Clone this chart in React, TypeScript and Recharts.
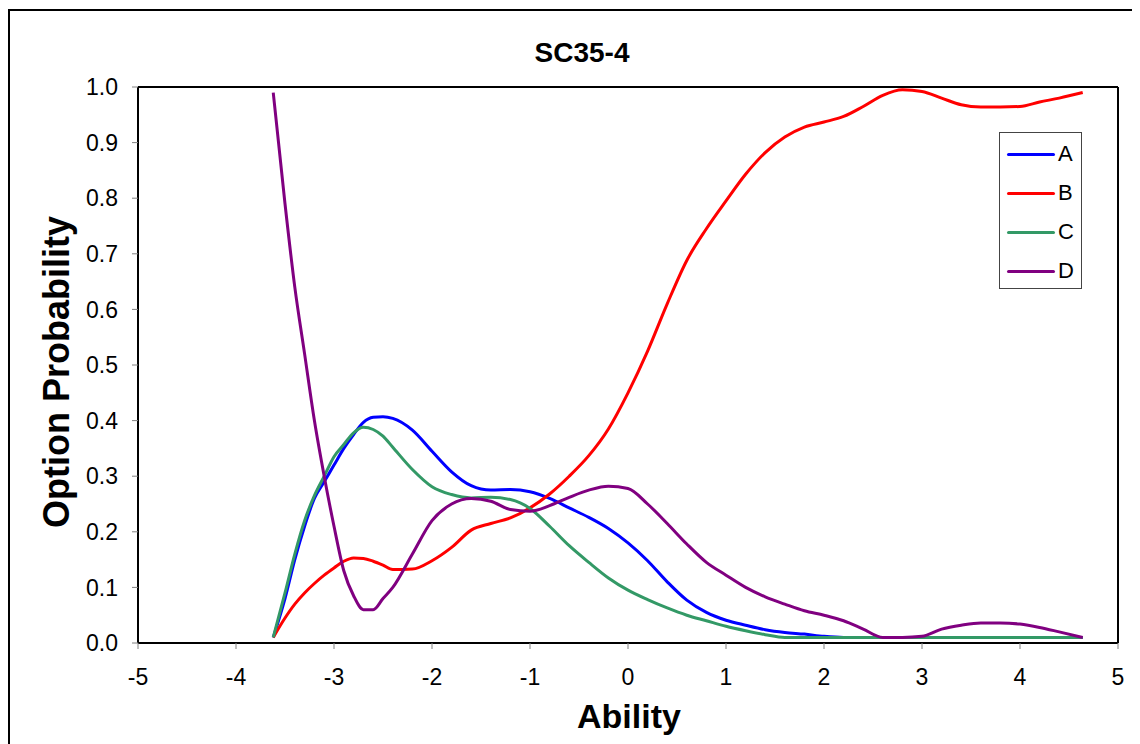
import { LineChart, Line, XAxis, YAxis, ReferenceLine } from 'recharts';

const ABILITY = [
  -3.62, -3.5, -3.4, -3.3, -3.2, -3.1, -3.0, -2.9, -2.8, -2.7, -2.6, -2.5, -2.4, -2.2, -2.0,
  -1.8, -1.6, -1.4, -1.2, -1.0, -0.8, -0.6, -0.4, -0.2, 0, 0.2, 0.4, 0.6, 0.8, 1.0,
  1.2, 1.4, 1.6, 1.8, 2.0, 2.2, 2.4, 2.6, 2.8, 3.0, 3.2, 3.4, 3.6, 3.8, 4.0, 4.2, 4.4, 4.64,
];

const OPTION_A = [
  0.01, 0.08, 0.15, 0.21, 0.26, 0.29, 0.32, 0.35, 0.375, 0.397, 0.406, 0.407, 0.404, 0.383, 0.345,
  0.308, 0.283, 0.275, 0.276, 0.272, 0.26, 0.243, 0.226, 0.206, 0.18, 0.148, 0.11, 0.077, 0.055, 0.041,
  0.032, 0.024, 0.019, 0.016, 0.012, 0.01, 0.01, 0.01, 0.01, 0.01, 0.01, 0.01, 0.01, 0.01, 0.01, 0.01, 0.01, 0.01,
];

const OPTION_B = [
  0.01, 0.045, 0.07, 0.09, 0.107, 0.122, 0.135, 0.147, 0.153, 0.152, 0.147, 0.14, 0.132, 0.133, 0.148,
  0.172, 0.203, 0.215, 0.225, 0.243, 0.268, 0.3, 0.337, 0.385, 0.45, 0.525, 0.61, 0.688, 0.745, 0.795,
  0.843, 0.882, 0.91, 0.928, 0.937, 0.947, 0.965, 0.985, 0.995, 0.992, 0.98, 0.968, 0.964, 0.964, 0.965, 0.973, 0.98, 0.99,
];

const OPTION_C = [
  0.01, 0.09, 0.16, 0.22, 0.265, 0.3, 0.335, 0.357, 0.378, 0.388, 0.384, 0.372, 0.352, 0.312, 0.281,
  0.267, 0.261, 0.262, 0.258, 0.242, 0.21, 0.175, 0.145, 0.117, 0.095, 0.078, 0.063, 0.05, 0.04, 0.03,
  0.022, 0.015, 0.01, 0.01, 0.01, 0.01, 0.01, 0.01, 0.01, 0.01, 0.01, 0.01, 0.01, 0.01, 0.01, 0.01, 0.01, 0.01,
];

const OPTION_D = [
  0.99, 0.79, 0.64, 0.52, 0.4, 0.3, 0.21, 0.13, 0.085, 0.06, 0.06, 0.08, 0.1, 0.16, 0.22,
  0.25, 0.26, 0.255, 0.24, 0.237, 0.247, 0.262, 0.275, 0.282, 0.278, 0.25, 0.215, 0.178, 0.145, 0.122,
  0.1, 0.083, 0.07, 0.058, 0.05, 0.04, 0.025, 0.01, 0.01, 0.012, 0.025, 0.032, 0.036, 0.036, 0.034, 0.028, 0.02, 0.01,
];

const X_TICKS = [-5, -4, -3, -2, -1, 0, 1, 2, 3, 4, 5];
const Y_TICKS = [0, 0.1, 0.2, 0.3, 0.4, 0.5, 0.6, 0.7, 0.8, 0.9, 1.0];

const SERIES = [
  { key: 'A', color: '#0000ff' },
  { key: 'B', color: '#ff0000' },
  { key: 'C', color: '#339966' },
  { key: 'D', color: '#800080' },
];

const FONT = 'Arial, "Liberation Sans", sans-serif';

const data = ABILITY.map((x, i) => ({
  x,
  A: OPTION_A[i],
  B: OPTION_B[i],
  C: OPTION_C[i],
  D: OPTION_D[i],
}));

// legend box, same look as the excel one
function LegendBox() {
  return (
    <div
      style={{
        position: 'absolute',
        left: 991,
        top: 124,
        width: 81,
        height: 155,
        border: '1px solid #444',
        background: '#fff',
        fontSize: 22,
      }}
    >
      {SERIES.map((s, i) => (
        <div key={s.key} style={{ position: 'absolute', left: 7, top: 9 + i * 39, display: 'flex', alignItems: 'center' }}>
          <div style={{ width: 48, height: 3, background: s.color, borderRadius: 2 }} />
          <span style={{ marginLeft: 3, lineHeight: '24px' }}>{s.key}</span>
        </div>
      ))}
    </div>
  );
}

export default function App() {
  return (
    <div style={{ position: 'relative', width: 1132, height: 736, fontFamily: FONT, overflow: 'hidden' }}>
      <div style={{ position: 'absolute', left: 0, top: 1, width: 1200, height: 800, borderTop: '2px solid #000', borderLeft: '2px solid #000' }} />
      <div style={{ position: 'absolute', left: 474, top: 29, width: 200, textAlign: 'center', fontWeight: 'bold', fontSize: 28 }}>
        SC35-4
      </div>
      <div
        style={{
          position: 'absolute',
          left: 49,
          top: 364,
          transform: 'translate(-50%, -50%) rotate(-90deg)',
          whiteSpace: 'nowrap',
          fontWeight: 'bold',
          fontSize: 36,
        }}
      >
        Option Probability
      </div>
      <div style={{ position: 'absolute', left: 521, top: 689, width: 200, textAlign: 'center', fontWeight: 'bold', fontSize: 34 }}>
        Ability
      </div>
      <div style={{ position: 'absolute', left: 0, top: 0 }}>
        <LineChart width={1132} height={736} data={data} margin={{ top: 79, right: 22, bottom: 71, left: 70 }}>
          <XAxis
            dataKey="x"
            type="number"
            domain={[-5, 5]}
            ticks={X_TICKS}
            tick={{ fill: '#000', fontSize: 23, fontFamily: FONT }}
            tickSize={6}
            tickMargin={20}
            tickLine={{ stroke: '#808080' }}
            axisLine={{ stroke: '#000', strokeWidth: 2 }}
            height={30}
          />
          <YAxis
            type="number"
            domain={[0, 1]}
            ticks={Y_TICKS}
            tickFormatter={(v) => Number(v).toFixed(1)}
            tick={{ fill: '#000', fontSize: 23, fontFamily: FONT }}
            tickSize={6}
            tickMargin={14}
            tickLine={{ stroke: '#808080' }}
            axisLine={{ stroke: '#000', strokeWidth: 2 }}
            width={60}
          />
          <ReferenceLine y={1} stroke="#000" strokeWidth={2} />
          <ReferenceLine x={5} stroke="#000" strokeWidth={2} />
          {SERIES.map((s) => (
            <Line
              key={s.key}
              type="monotone"
              dataKey={s.key}
              stroke={s.color}
              strokeWidth={3}
              dot={false}
              isAnimationActive={false}
            />
          ))}
        </LineChart>
      </div>
      <LegendBox />
    </div>
  );
}
